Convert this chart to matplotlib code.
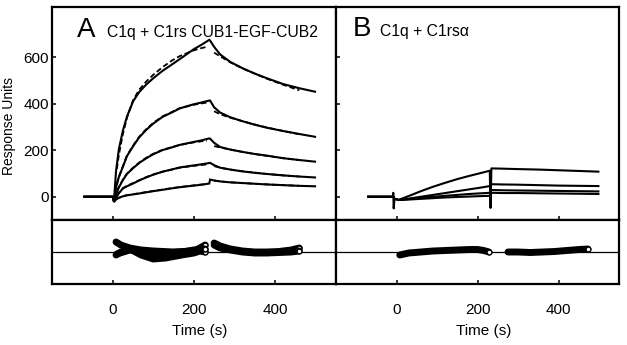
import matplotlib
matplotlib.use("Agg")
import matplotlib.pyplot as plt

plt.rcParams['font.family'] = ['Liberation Sans', 'DejaVu Sans']

# ---------------- Panel A data (sensorgrams, RU) ----------------
tA_assoc = [-70, 0, 3, 8, 15, 25, 35, 50, 65, 82, 100, 123, 145, 165, 200, 220, 238]
A1_assoc = [0, 0, -15, 110, 205, 285, 345, 410, 450, 482, 510, 542, 568, 592, 635, 655, 675]
A2_assoc = [0, 0, -18, 40, 85, 129, 175, 217, 255, 287, 315, 344, 362, 380, 398, 406, 414]
A3_assoc = [0, 0, -20, 10, 40, 72, 98, 123, 145, 165, 183, 201, 212, 223, 236, 243, 251]
A4_assoc = [0, 0, -22, -5, 15, 36, 45, 57, 70, 83, 95, 108, 117, 126, 135, 140, 145]
A5_assoc = [0, 0, -22, -12, -5, 2, 6, 10, 14, 19, 24, 30, 36, 41, 48, 52, 57]

tA_dissoc = [240, 250, 265, 290, 320, 350, 380, 420, 460, 499]
A1_dissoc = [672, 645, 612, 580, 553, 530, 510, 485, 467, 452]
A2_dissoc = [414, 385, 362, 342, 325, 310, 297, 283, 270, 258]
A3_dissoc = [250, 232, 214, 203, 193, 184, 177, 166, 158, 151]
A4_dissoc = [146, 136, 125, 117, 109, 103, 98, 92, 87, 83]
A5_dissoc = [74, 70, 66, 62, 59, 56, 53, 50, 47, 45]

# fitted curves (dashed)
tFit_assoc = [10, 15, 25, 35, 50, 65, 82, 100, 123, 145, 165, 200, 220, 232]
F1_assoc = [120, 180, 270, 340, 415, 460, 495, 525, 558, 585, 605, 630, 640, 645]
F2_assoc = [55, 85, 132, 178, 220, 258, 290, 318, 346, 364, 381, 396, 402, 405]
F3_assoc = [25, 42, 74, 100, 125, 147, 167, 185, 202, 213, 223, 234, 239, 241]
F4_assoc = [5, 17, 37, 47, 59, 71, 84, 96, 108, 117, 125, 133, 137, 139]
F5_assoc = [-8, -4, 3, 7, 11, 15, 20, 25, 31, 37, 42, 49, 53, 55]

tFit_dissoc = [250, 265, 290, 320, 350, 380, 420, 460]
F1_dissoc = [620, 604, 578, 552, 530, 508, 482, 458]
F2_dissoc = [368, 355, 340, 325, 311, 298, 283, 269]
F3_dissoc = [218, 212, 203, 193, 184, 176, 166, 158]
F4_dissoc = [132, 125, 117, 110, 104, 98, 92, 87]
F5_dissoc = [70, 66, 62, 59, 56, 53, 50, 47]

# ---------------- Panel B data ----------------
tB = [-70, -9, -8, -7, -5, 0, 4, 30, 60, 90, 120, 150, 180, 210, 230,
      232, 234, 260, 300, 350, 400, 450, 498]
B1 = [0, 0, 17, -50, -10, -10, -14, 3, 24, 43, 60, 76, 90, 103, 112,
      -48, 122, 121, 119, 117, 114, 111, 108]
B2 = [0, 0, 0, 0, -10, -10, -14, -8, 0, 8, 16, 24, 32, 40, 46,
      46, 54, 53, 52, 50, 48, 47, 46]
B3 = [0, 0, 0, 0, -10, -10, -14, -10, -5, 0, 4, 8, 12, 15, 17,
      17, 29, 28, 27, 26, 25, 24, 23]
B4 = [0, 0, 0, 0, -10, -10, -14, -12, -9, -6, -3, -1, 1, 3, 4,
      4, 17, 16, 16, 15, 14, 13, 12]

# ---------------- Residuals ----------------
tRA1 = [8, 20, 42, 70, 100, 150, 200, 215, 228]
RA1 = [10, 7, 4, 2, 1, 0, 1, 4, 7]
tRA2 = [8, 20, 42, 70, 100, 130, 170, 200, 215, 228]
RA2 = [-3, 0, 3, -3, -7, -6, -3, -1, 1, 0]
tRA3 = [10, 42, 80, 120, 170, 200, 228]
RA3 = [-2, 2, 0, -1, 0, 2, 3]
tRA_d = [250, 265, 290, 320, 350, 380, 410, 440, 460]
RA_d1 = [9, 6, 3, 1, 0, 0, 0.5, 2, 4]
RA_d2 = [7, 4, 2, 0, -1, -1, -0.5, 0, 1]

tRB_a = [8, 30, 60, 90, 120, 150, 180, 200, 215, 228]
RB_a = [-3, -1, 0, 1, 1.5, 2, 2.5, 2.5, 1.5, 0]
tRB_d = [275, 300, 330, 360, 390, 420, 450, 472]
RB_d = [0, 0, -0.5, 0, 0.5, 1.5, 2.5, 3]

xticks = [0, 200, 400]
yticks = [0, 200, 400, 600]

fig = plt.figure(figsize=(6.27, 3.45), dpi=100)
gs = fig.add_gridspec(2, 2, left=0.0829, right=0.988, top=0.9788, bottom=0.1768,
                      wspace=0, hspace=0, height_ratios=[212.7, 64])
axA = fig.add_subplot(gs[0, 0])
axB = fig.add_subplot(gs[0, 1])
axRA = fig.add_subplot(gs[1, 0])
axRB = fig.add_subplot(gs[1, 1])

lw = 1.5
dash = (3, 1.6)
for ya, yd in [(A1_assoc, A1_dissoc), (A2_assoc, A2_dissoc), (A3_assoc, A3_dissoc),
               (A4_assoc, A4_dissoc), (A5_assoc, A5_dissoc)]:
    axA.plot(tA_assoc + tA_dissoc, ya + yd, color='black', lw=lw, solid_joinstyle='miter')
for fa, fd in [(F1_assoc, F1_dissoc), (F2_assoc, F2_dissoc), (F3_assoc, F3_dissoc),
               (F4_assoc, F4_dissoc), (F5_assoc, F5_dissoc)]:
    axA.plot(tFit_assoc, fa, color='black', lw=1.3, dashes=dash)
    axA.plot(tFit_dissoc, fd, color='black', lw=1.3, dashes=dash)

for yb in [B4, B3, B2, B1]:
    axB.plot(tB, yb, color='black', lw=lw)

# residuals
for ax in (axRA, axRB):
    ax.axhline(0, color='black', lw=0.9)
rkw = dict(color='black', lw=5, solid_capstyle='round', solid_joinstyle='round')
for t, r in [(tRA1, RA1), (tRA2, RA2), (tRA3, RA3), (tRA_d, RA_d1), (tRA_d, RA_d2)]:
    axRA.plot(t, r, **rkw)
    axRA.plot(t[-1:], r[-1:], 'o', ms=3.5, mfc='white', mec='black', mew=1.0)
for t, r in [(tRB_a, RB_a), (tRB_d, RB_d)]:
    axRB.plot(t, r, **rkw)
    axRB.plot(t[-1:], r[-1:], 'o', ms=3.5, mfc='white', mec='black', mew=1.0)

for ax in (axA, axB, axRA, axRB):
    ax.set_xlim(-150, 550)
    ax.set_xticks(xticks)
    for s in ax.spines.values():
        s.set_linewidth(1.6)
    ax.tick_params(direction='in', length=3.2, width=1.1, top=False, right=False,
                   labelsize=11, colors='black')

for ax in (axA, axB):
    ax.set_ylim(-100, 815)
    ax.set_yticks(yticks)
    ax.tick_params(labelbottom=False)
axA.tick_params(axis='y', pad=2)
axB.tick_params(labelleft=False)

for ax in (axRA, axRB):
    ax.set_ylim(-32, 32)
    ax.set_yticks([])
    ax.tick_params(axis='x', pad=14)
    ax.set_xlabel('Time (s)', fontsize=11, labelpad=4)
    ax.xaxis.set_label_coords(0.52, -0.62)

axA.text(0.088, 0.86, 'A', transform=axA.transAxes, fontsize=20, ha='left', va='baseline')
axA.text(0.194, 0.86, 'C1q + C1rs CUB1-EGF-CUB2', transform=axA.transAxes, fontsize=11.3,
         ha='left', va='baseline')
axB.text(0.06, 0.865, 'B', transform=axB.transAxes, fontsize=20, ha='left', va='baseline')
axB.text(0.155, 0.865, 'C1q + C1rs\u03b1', transform=axB.transAxes, fontsize=11.3,
         ha='left', va='baseline')

fig.text(9 / 627, 1 - 126 / 345, 'Response Units', rotation=90, fontsize=10,
         ha='center', va='center')

fig.savefig('out.png', dpi=100)
